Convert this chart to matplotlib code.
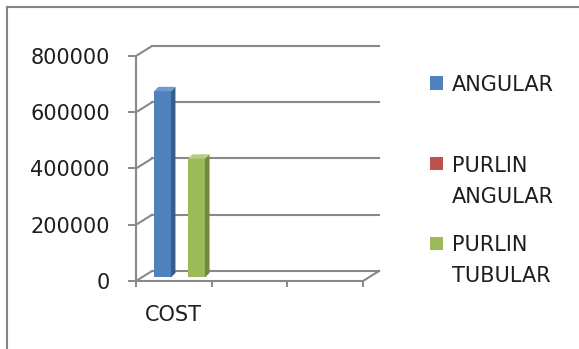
import matplotlib
matplotlib.use("Agg")
import matplotlib.pyplot as plt
import matplotlib.transforms as mtransforms
from matplotlib.patches import Polygon, Rectangle
from matplotlib.lines import Line2D

# data
categories = ["COST", "", ""]
series = ["ANGULAR", "PURLIN ANGULAR", "PURLIN TUBULAR"]
values = [662000, 0, 422000]
yticks = [0, 200000, 400000, 600000, 800000]

front = ["#4F81BD", "#C0504D", "#9BBB59"]
side = ["#385D8A", "#8C3836", "#71893F"]
top = ["#6F9AD3", "#D6706D", "#B5D07C"]

grid_c = "#898989"
text_c = "#1e1e1e"
plt.rcParams["font.family"] = "DejaVu Sans"

fig = plt.figure(figsize=(5.79, 3.49), dpi=100)
ax = fig.add_axes([136 / 579, 68 / 349, 227 / 579, 225 / 349])
ax.set_xlim(0, len(categories))
ax.set_ylim(0, yticks[-1])
for s in ax.spines.values():
    s.set_visible(False)
ax.patch.set_visible(False)

# depth of the back wall, in data units
dx, dy = 0.2115, 35556
n = len(categories)

# back wall gridlines and the diagonals joining them to the front axis
for v in yticks:
    ax.add_line(Line2D([dx, n + dx], [v + dy, v + dy], color=grid_c, lw=1.5, clip_on=False))
    ax.add_line(Line2D([0, dx], [v, v + dy], color=grid_c, lw=1.5, clip_on=False))
# floor
ax.add_line(Line2D([0, n], [0, 0], color=grid_c, lw=1.5, clip_on=False))
ax.add_line(Line2D([n, n + dx], [0, dy], color=grid_c, lw=1.5, clip_on=False))
# front value axis
ax.add_line(Line2D([0, 0], [0, yticks[-1]], color=grid_c, lw=1.5, clip_on=False))

# bars stand a little behind the front edge of the floor
bar_tr = mtransforms.Affine2D().translate(0.35 * dx, 0.35 * dy) + ax.transData
width = 0.225
bdx, bdy = 0.06, 16000
for i, (name, v) in enumerate(zip(series, values)):
    x = 0.5 + (i - 1) * width
    ax.bar(x, v, width=width, color=front[i], transform=bar_tr, clip_on=False, zorder=3)
    if v > 0:
        l, r = x - width / 2, x + width / 2
        ax.add_patch(Polygon([(r, 0), (r + bdx, bdy), (r + bdx, v + bdy), (r, v)],
                             closed=True, facecolor=side[i], edgecolor="none",
                             transform=bar_tr, clip_on=False, zorder=3))
        ax.add_patch(Polygon([(l, v), (r, v), (r + bdx, v + bdy), (l + bdx, v + bdy)],
                             closed=True, facecolor=top[i], edgecolor="none",
                             transform=bar_tr, clip_on=False, zorder=3))

# ticks
ax.set_yticks(yticks)
ax.set_yticklabels([str(t) for t in yticks])
ax.tick_params(axis="y", direction="out", length=5.8, width=1.4, color=grid_c,
               pad=13, labelsize=15, labelcolor=text_c)
ax.set_xticks(range(n + 1))
ax.set_xticklabels([""] * (n + 1))
ax.tick_params(axis="x", which="major", direction="out", length=4.5, width=1.4, color=grid_c)
ax.set_xticks([i + 0.5 for i in range(n)], minor=True)
ax.set_xticklabels(categories, minor=True)
ax.tick_params(axis="x", which="minor", length=0, pad=17, labelsize=15, labelcolor=text_c)

# legend
leg_y = [83, 164, 243]
for i, name in enumerate(series):
    yc = 1 - leg_y[i] / 349
    fig.patches.append(Rectangle((430 / 579, yc - 6.5 / 349), 13 / 579, 13 / 349,
                                 transform=fig.transFigure, facecolor=front[i],
                                 edgecolor="none"))
    fig.text(452 / 579, yc + 8 / 349, name.replace(" ", "\n"), fontsize=15,
             color=text_c, va="top", ha="left", linespacing=1.66)

# chart border (top and left)
fig.add_artist(Line2D([7 / 579, 578 / 579], [1 - 7 / 349, 1 - 7 / 349],
                      transform=fig.transFigure, color="#868686", lw=1.5))
fig.add_artist(Line2D([7 / 579, 7 / 579], [0, 1 - 7 / 349],
                      transform=fig.transFigure, color="#868686", lw=1.5))

fig.savefig("out.png", dpi=100)
